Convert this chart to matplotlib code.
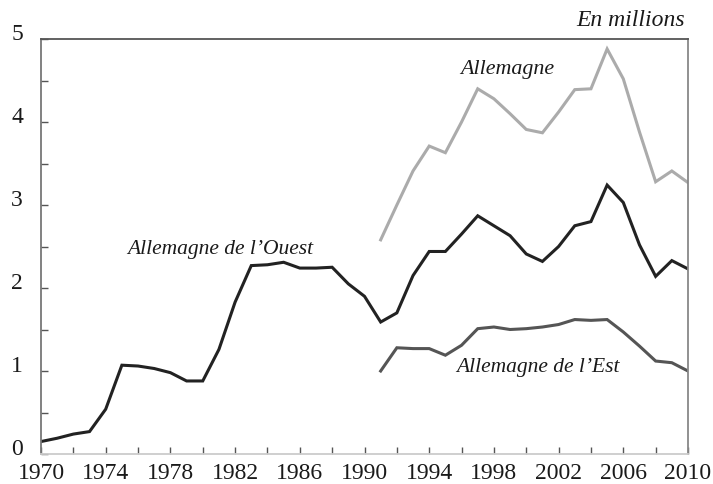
import matplotlib.pyplot as plt
import matplotlib.transforms as mtransforms

plt.rcParams['font.family'] = ['Liberation Serif', 'DejaVu Serif']

# Years
years_ouest = list(range(1970, 2011))
years_unif = list(range(1991, 2011))

# Allemagne de l'Ouest (1970-2010)
ouest = [0.15, 0.19, 0.24, 0.27, 0.54, 1.07, 1.06, 1.03, 0.98, 0.88,
         0.88, 1.26, 1.83, 2.27, 2.28, 2.31, 2.24, 2.24, 2.25, 2.05,
         1.90, 1.59, 1.70, 2.15, 2.44, 2.44, 2.65, 2.87, 2.75, 2.63,
         2.41, 2.32, 2.50, 2.75, 2.80, 3.24, 3.03, 2.52, 2.14, 2.33,
         2.23]

# Allemagne (1991-2010)
allemagne = [2.58, 3.00, 3.41, 3.71, 3.63, 4.00, 4.40, 4.28, 4.10, 3.91,
             3.87, 4.12, 4.39, 4.40, 4.88, 4.52, 3.88, 3.28, 3.41, 3.27]

# Allemagne de l'Est (1991-2010)
est = [1.00, 1.28, 1.27, 1.27, 1.19, 1.31, 1.51, 1.53, 1.50, 1.51,
       1.53, 1.56, 1.62, 1.61, 1.62, 1.47, 1.30, 1.12, 1.10, 1.00]

fig = plt.figure(figsize=(7.13, 4.85), dpi=100)
ax = fig.add_axes([41 / 713, 1 - 455 / 485, (688 - 41) / 713, (455 - 40) / 485])

ax.plot(years_unif, allemagne, color='#ababab', lw=2.2, solid_joinstyle='miter')
ax.plot(years_ouest, ouest, color='#222222', lw=2.2, solid_joinstyle='miter')
ax.plot(years_unif, est, color='#555555', lw=2.2, solid_joinstyle='miter')

ax.set_xlim(1970, 2010)
ax.set_ylim(0, 5)

# ticks
ax.set_xticks(range(1970, 2011, 4))
ax.set_xticks(range(1970, 2011, 2), minor=True)
ax.set_yticks(range(0, 6))
ax.set_yticks([0.5, 1.5, 2.5, 3.5, 4.5], minor=True)
ax.tick_params(which='both', direction='in', length=5, width=1, color='#555555',
               labelsize=17, labelcolor='#1a1a1a')
ax.tick_params(axis='y', pad=13)
ax.tick_params(axis='x', pad=6)

# y labels shifted up a bit
offset = mtransforms.ScaledTranslation(0, 0.075, fig.dpi_scale_trans)
for lab in ax.get_yticklabels():
    lab.set_transform(lab.get_transform() + offset)

for side, c in [('left', '#777777'), ('top', '#555555'), ('right', '#888888'), ('bottom', '#cccccc')]:
    ax.spines[side].set_color(c)
    ax.spines[side].set_linewidth(1.3)

# annotations
ax.text(1998.8, 4.64, 'Allemagne', style='italic', fontsize=15.8, ha='center', va='center', color='#1a1a1a')
ax.text(1981.1, 2.47, 'Allemagne de l’Ouest', style='italic', fontsize=15.5, ha='center', va='center', color='#1a1a1a')
ax.text(2000.7, 1.05, 'Allemagne de l’Est', style='italic', fontsize=15.5, ha='center', va='center', color='#1a1a1a')
fig.text(685 / 713, 1 - 21 / 485, 'En millions', style='italic', fontsize=17, ha='right', va='center', color='#1a1a1a')

fig.savefig('out.png', dpi=100)
